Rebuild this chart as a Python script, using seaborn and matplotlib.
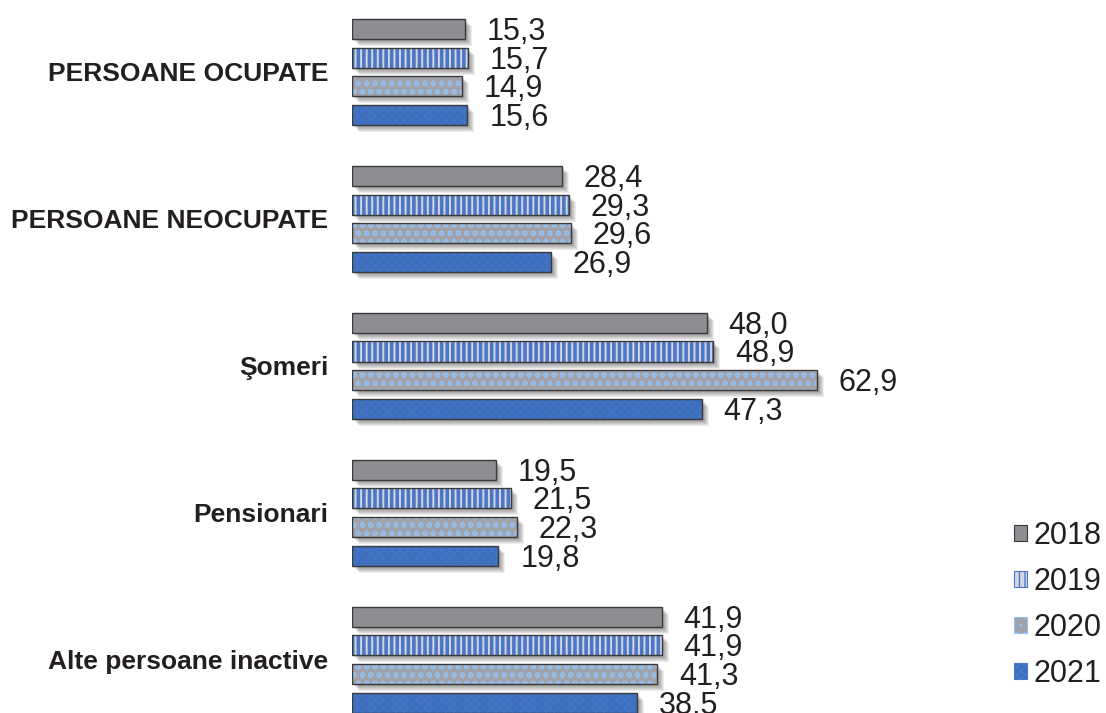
import matplotlib
matplotlib.use("Agg")
import numpy as np
import pandas as pd
import seaborn as sns
import matplotlib.pyplot as plt
import matplotlib.transforms as mtransforms
from matplotlib.patches import Rectangle, Patch

categories = ["PERSOANE OCUPATE", "PERSOANE NEOCUPATE", "Şomeri", "Pensionari",
              "Alte persoane inactive"]
years = ["2018", "2019", "2020", "2021"]
v2018 = [15.3, 28.4, 48.0, 19.5, 41.9]
v2019 = [15.7, 29.3, 48.9, 21.5, 41.9]
v2020 = [14.9, 29.6, 62.9, 22.3, 41.3]
v2021 = [15.6, 26.9, 47.3, 19.8, 38.5]
series = [v2018, v2019, v2020, v2021]

face_colors = ["#8d8e91", "#d3d7e0", "#a0a2a8", "#3d6fbe"]
hatch_colors = [None, "#4d76c6", "#93c0ee", "#4878c6"]
hatches = [None, "|||", "..", "xxxx"]
hatch_lw = [None, 2.6, 2.8, 0.5]
text_color = "#231f20"

rows = []
for y, vals in zip(years, series):
    for c, v in zip(categories, vals):
        rows.append({"category": c, "year": y, "value": v})
df = pd.DataFrame(rows)

sns.set_theme(style="white")
plt.rcParams["font.family"] = ["Liberation Sans", "DejaVu Sans"]

fig = plt.figure(figsize=(11.06, 7.13), dpi=100)
ax = fig.add_axes([352 / 1106, 0, 739 / 1106, 1])

sns.barplot(data=df, y="category", x="value", hue="year", orient="h",
            order=categories, hue_order=years, palette=face_colors,
            width=0.781, gap=0.3, saturation=1, legend=False, ax=ax,
            err_kws={"linewidth": 0})

ax.set_xlim(0, 100)
ax.set_ylim(4.363, -0.490)

for i, cont in enumerate(ax.containers):
    for bar in cont:
        x, y = bar.get_x(), bar.get_y()
        w, h = bar.get_width(), bar.get_height()
        bar.set_zorder(3)
        # soft drop shadow
        for k in range(1, 8):
            off = mtransforms.ScaledTranslation(k / 100, -k / 100, fig.dpi_scale_trans)
            sh = Rectangle((x, y), w, h, transform=ax.transData + off,
                           facecolor="black", edgecolor="none", alpha=0.07, zorder=2)
            ax.add_patch(sh)
        if hatches[i] is not None:
            bar.set_edgecolor(hatch_colors[i])
            bar.set_linewidth(0)
            bar.set_hatch(hatches[i])
            if hasattr(bar, "set_hatch_linewidth"):
                bar.set_hatch_linewidth(hatch_lw[i])
        else:
            bar.set_edgecolor("none")
            bar.set_linewidth(0)
        ax.add_patch(Rectangle((x, y), w, h, fill=False, edgecolor="#3a3a3c",
                               linewidth=1.0, zorder=4))
        ax.annotate(f"{w:.1f}".replace(".", ","), xy=(x + w, y + h / 2),
                    xytext=(22, -3), textcoords="offset pixels",
                    ha="left", va="center", fontsize=22, color=text_color,
                    annotation_clip=False)

ax.set_xlabel("")
ax.set_ylabel("")
ax.set_xticks([])
for s in ax.spines.values():
    s.set_visible(False)
ax.tick_params(axis="y", left=False, length=0, pad=17, labelsize=19, labelcolor=text_color)
for lab in ax.get_yticklabels():
    lab.set_fontweight("bold")

handles = []
for i in range(4):
    if hatches[i] is None:
        handles.append(Patch(facecolor=face_colors[i], edgecolor="#3a3a3c", linewidth=0.8))
    else:
        handles.append(Patch(facecolor=face_colors[i], edgecolor=hatch_colors[i],
                             hatch=hatches[i], linewidth=0.8))
fig.legend(handles, years, loc="center left", bbox_to_anchor=(1014 / 1106, 1 - 605 / 713),
           frameon=False, fontsize=22, handlelength=0.43, handleheight=0.43,
           handletextpad=0.22, labelspacing=0.52, borderpad=0, borderaxespad=0,
           labelcolor=text_color)

fig.savefig("out.png", dpi=100)
